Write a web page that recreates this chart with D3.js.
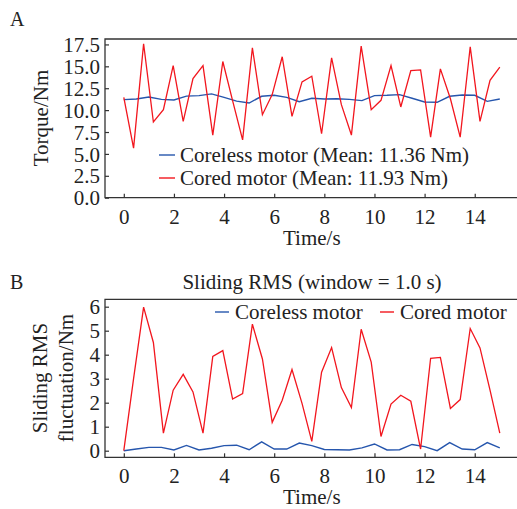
<!DOCTYPE html>
<html>
<head>
<meta charset="utf-8">
<script src="https://cdn.jsdelivr.net/npm/d3@7"></script>
<style>
body { margin: 0; background: #fff; }
svg { display: block; }
text { font-family: "Liberation Serif", "Times New Roman", serif; fill: #222; }
</style>
</head>
<body>
<svg id="fig" width="517" height="509"></svg>
<script>
// time axes (s)
var tRed = [0, 0.39, 0.79, 1.18, 1.58, 1.97, 2.37, 2.76, 3.16, 3.55, 3.95, 4.34, 4.74, 5.13,
    5.53, 5.92, 6.32, 6.71, 7.11, 7.50, 7.89, 8.29, 8.68, 9.08, 9.47, 9.87, 10.26, 10.66,
    11.05, 11.45, 11.84, 12.24, 12.63, 13.03, 13.42, 13.82, 14.21, 14.61, 15.00];
var tBlue = [0, 0.5, 1, 1.5, 2, 2.5, 3, 3.5, 4, 4.5, 5, 5.5, 6, 6.5, 7, 7.5, 8, 8.5, 9, 9.5,
    10, 10.5, 11, 11.5, 12, 12.5, 13, 13.5, 14, 14.5, 15];

// panel A: torque
var torqueCored = [11.46, 5.66, 17.58, 8.64, 10.05, 15.09, 8.71, 13.6, 15.09, 7.15,
    15.55, 11.08, 6.61, 17.12, 9.48, 11.77, 16.09, 9.29, 13.22, 13.87,
    7.3, 15.97, 10.62, 7.15, 17.31, 10.05, 11.12, 15.09, 10.36, 14.52,
    14.6, 6.92, 14.71, 11.3, 6.92, 17.23, 8.71, 13.41, 14.9];
var torqueCoreless = [11.2, 11.27, 11.5, 11.23, 11.16, 11.6, 11.65, 11.85, 11.46, 11.03,
    10.81, 11.58, 11.69, 11.46, 10.96, 11.35, 11.27, 11.3, 11.23, 11.08,
    11.65, 11.69, 11.77, 11.35, 10.93, 10.89, 11.58, 11.73, 11.69, 11.0, 11.27];

// panel B: sliding RMS
var rmsCored = [0, 3.0, 5.98, 4.51, 0.73, 2.52, 3.18, 2.45, 0.73, 3.93,
    4.17, 2.15, 2.38, 5.27, 3.82, 1.18, 2.1, 3.38, 1.97, 0.39,
    3.27, 4.3, 2.63, 1.8, 5.06, 3.69, 0.59, 1.94, 2.31, 2.06,
    0.07, 3.85, 3.89, 1.76, 2.13, 5.09, 4.28, 2.52, 0.73];
var rmsCoreless = [0, 0.07, 0.14, 0.14, 0.03, 0.22, 0.03, 0.1, 0.21, 0.23,
    0.04, 0.37, 0.07, 0.07, 0.32, 0.21, 0.05, 0.04, 0.03, 0.12,
    0.28, 0.03, 0.04, 0.26, 0.17, 0.0, 0.34, 0.07, 0.04, 0.34, 0.12];

var xTicks = [0, 2, 4, 6, 8, 10, 12, 14];
var yTicksA = [0, 2.5, 5, 7.5, 10, 12.5, 15, 17.5];
var yTicksB = [0, 1, 2, 3, 4, 5, 6];
var legendA = ['Coreless motor (Mean: 11.36 Nm)', 'Cored motor (Mean: 11.93 Nm)'];
var legendB = ['Coreless motor', 'Cored motor'];

var RED = '#f2161e';
var BLUE = '#2656ad';
var FS = 21;

var svg = d3.select('#fig');

function panel(cfg) {
    var x = d3.scaleLinear().domain([-0.75, 15.75]).range([cfg.left, cfg.right]);
    var y = d3.scaleLinear().domain(cfg.ydom).range([cfg.bottom, cfg.top]);
    var g = svg.append('g');

    var xaxis = d3.axisBottom(x).tickValues(xTicks).tickFormat(d3.format('d'))
        .tickSizeInner(-4).tickSizeOuter(0).tickPadding(11);
    var yaxis = d3.axisLeft(y).tickValues(cfg.yticks).tickFormat(cfg.yfmt)
        .tickSizeInner(-4).tickSizeOuter(0).tickPadding(5);

    var gx = g.append('g').attr('transform', `translate(0, ${cfg.bottom})`).call(xaxis);
    var gy = g.append('g').attr('transform', `translate(${cfg.left}, 0)`).call(yaxis);
    [gx, gy].forEach(function (a) {
        a.attr('font-family', null).attr('font-size', null);
        a.select('.domain').remove();
        a.selectAll('line').attr('stroke', '#333').attr('stroke-width', 1.2);
        a.selectAll('text').style('font-size', FS + 'px').attr('fill', '#222');
    });
    gy.selectAll('text').attr('dy', '0.34em');

    // frame (right edge falls outside the picture)
    g.append('path')
        .attr('d', `M${cfg.right},${cfg.top}H${cfg.left}V${cfg.bottom}H${cfg.right}`)
        .attr('fill', 'none').attr('stroke', '#333').attr('stroke-width', 1.3);

    var line = d3.line().x(d => x(d[0])).y(d => y(d[1]));
    g.append('path').datum(d3.zip(tBlue, cfg.blue)).attr('d', line)
        .attr('fill', 'none').attr('stroke', BLUE).attr('stroke-width', 1.4);
    g.append('path').datum(d3.zip(tRed, cfg.red)).attr('d', line)
        .attr('fill', 'none').attr('stroke', RED).attr('stroke-width', 1.3);

    g.append('text').attr('x', (cfg.left + cfg.right) / 2).attr('y', cfg.bottom + cfg.xlabGap)
        .attr('text-anchor', 'middle').style('font-size', FS + 'px').text('Time/s');
    return {x: x, y: y, g: g};
}

// ---- panel A ----
var pa = panel({left: 105, right: 518.6, top: 39, bottom: 197.7, ydom: [0, 18.12], xlabGap: 47,
    yticks: yTicksA, yfmt: d3.format('.1f'), red: torqueCored, blue: torqueCoreless});

svg.append('text').attr('x', 10).attr('y', 26).style('font-size', '20px').text('A');
svg.append('text').attr('transform', 'translate(48, 118) rotate(-90)')
    .attr('text-anchor', 'middle').style('font-size', FS + 'px').text('Torque/Nm');

var legA = pa.g.append('g');
legendA.forEach(function (s, i) {
    var yy = 155 + i * 23;
    legA.append('line').attr('x1', 159).attr('x2', 175).attr('y1', yy).attr('y2', yy)
        .attr('stroke', i === 0 ? BLUE : RED).attr('stroke-width', 1.4);
    legA.append('text').attr('x', 180).attr('y', yy).attr('dy', '0.33em')
        .style('font-size', FS + 'px').text(s);
});

// ---- panel B ----
var pb = panel({left: 105, right: 518.6, top: 299.3, bottom: 457.3, ydom: [-0.275, 6.308], xlabGap: 47,
    yticks: yTicksB, yfmt: d3.format('d'), red: rmsCored, blue: rmsCoreless});

svg.append('text').attr('x', 10).attr('y', 289).style('font-size', '20px').text('B');
svg.append('text').attr('x', 312).attr('y', 289).attr('text-anchor', 'middle')
    .style('font-size', FS + 'px').text('Sliding RMS (window = 1.0 s)');
svg.append('text').attr('transform', 'translate(47, 378) rotate(-90)')
    .attr('text-anchor', 'middle').style('font-size', FS + 'px').text('Sliding RMS');
svg.append('text').attr('transform', 'translate(73, 378) rotate(-90)')
    .attr('text-anchor', 'middle').style('font-size', FS + 'px').text('fluctuation/Nm');

var legB = pb.g.append('g');
var legBx = [215, 380];
legendB.forEach(function (s, i) {
    var yy = 312;
    legB.append('line').attr('x1', legBx[i]).attr('x2', legBx[i] + 14).attr('y1', yy).attr('y2', yy)
        .attr('stroke', i === 0 ? BLUE : RED).attr('stroke-width', 1.4);
    legB.append('text').attr('x', legBx[i] + 20).attr('y', yy).attr('dy', '0.33em')
        .style('font-size', FS + 'px').text(s);
});
</script>
</body>
</html>
